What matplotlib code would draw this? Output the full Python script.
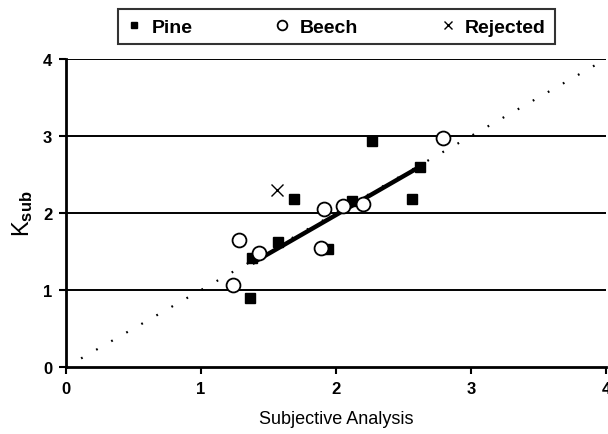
import matplotlib
matplotlib.use("Agg")
import matplotlib.pyplot as plt

plt.rcParams['font.family'] = ['Liberation Sans', 'DejaVu Sans']
plt.rcParams['mathtext.fontset'] = 'custom'
plt.rcParams['mathtext.rm'] = 'Liberation Sans:bold'
plt.rcParams['mathtext.it'] = 'Liberation Sans:bold'

pine_x = [2.27, 1.69, 2.56, 2.62, 2.12, 1.57, 1.94, 1.38, 1.36]
pine_y = [2.93, 2.18, 2.18, 2.60, 2.16, 1.63, 1.53, 1.42, 0.90]
beech_x = [2.79, 1.91, 2.05, 2.20, 1.28, 1.43, 1.89, 1.24]
beech_y = [2.97, 2.05, 2.09, 2.12, 1.65, 1.48, 1.55, 1.06]
rejected_x = [1.56]
rejected_y = [2.30]
fit_x = [1.38, 2.62]
fit_y = [1.35, 2.60]
ident = [0, 4]
ticks = [0, 1, 2, 3, 4]

fig = plt.figure(figsize=(6.08, 4.35), dpi=100)
ax = fig.add_axes([0.1086, 0.154, 0.888, 0.708])

for yv in [1, 2, 3, 4]:
    ax.axhline(yv, color='black', lw=1.4, zorder=1)

ax.plot(ident, ident, color='black', lw=1.6, linestyle=(0, (0.8, 7)), zorder=2)
ax.plot(fit_x, fit_y, color='black', lw=3.2, zorder=3, solid_capstyle='butt')

p, = ax.plot(pine_x, pine_y, 's', color='black', ms=7, zorder=4, label='Pine')
b, = ax.plot(beech_x, beech_y, 'o', mfc='white', mec='black', mew=1.3, ms=10, zorder=5, label='Beech')
r, = ax.plot(rejected_x, rejected_y, 'x', color='black', ms=8, mew=1.0, zorder=5, label='Rejected')

ax.set_xlim(0, 4)
ax.set_ylim(0, 4)
ax.set_xticks(ticks)
ax.set_yticks(ticks)
ax.set_xticklabels([str(t) for t in ticks], fontsize=12, fontweight='bold')
ax.set_yticklabels([str(t) for t in ticks], fontsize=12, fontweight='bold')
ax.tick_params(direction='out', length=5, width=1.5, pad=5)
for s in ['top', 'right']:
    ax.spines[s].set_visible(False)
for s in ['left', 'bottom']:
    ax.spines[s].set_linewidth(2)

ax.set_xlabel('Subjective Analysis', fontsize=13, labelpad=10)
ax.set_ylabel(r'K$_{\mathrm{sub}}$', fontsize=17, labelpad=6)

leg = fig.legend(handles=[p, b, r], ncol=3, loc='center', bbox_to_anchor=(0.553, 0.936),
                 frameon=True, fancybox=False, edgecolor='black',
                 prop={'weight': 'bold', 'size': 14}, handlelength=0.8, handletextpad=0.5,
                 columnspacing=4.2, borderpad=0.45, borderaxespad=0, markerscale=0.7)
leg.get_frame().set_linewidth(1.5)

fig.savefig('out.png', dpi=100)
